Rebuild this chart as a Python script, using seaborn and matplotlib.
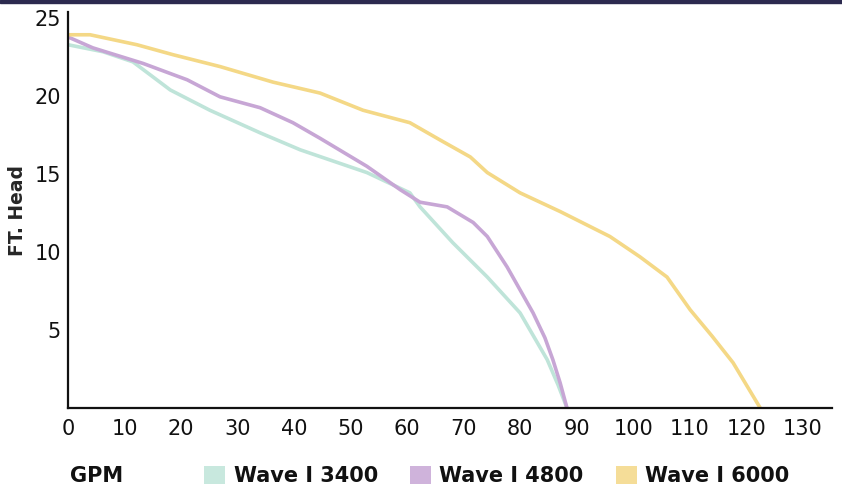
import matplotlib
matplotlib.use("Agg")
import matplotlib.pyplot as plt
import matplotlib.patches as mpatches
import seaborn as sns
import pandas as pd

# ---- data ----
gpm_3400 = [0, 6.2, 11.5, 18.1, 25.1, 34.0, 41.1, 52.9, 60.5, 62.3, 68.1, 74.2, 80.0, 84.8, 86.7, 88.3]
head_3400 = [23.3, 22.85, 22.2, 20.4, 19.1, 17.65, 16.56, 15.1, 13.8, 12.9, 10.6, 8.4, 6.1, 3.1, 1.5, 0.0]

gpm_4800 = [0, 4.4, 13.3, 21.1, 26.9, 34.0, 39.8, 44.6, 52.9, 58.8, 62.3, 67.1, 71.7, 74.2, 77.7, 82.3, 84.4, 85.8, 87.1, 88.3]
head_4800 = [23.8, 23.1, 22.1, 21.05, 19.96, 19.26, 18.3, 17.3, 15.5, 14.0, 13.2, 12.9, 11.9, 11.0, 9.05, 6.1, 4.5, 3.1, 1.6, 0.0]

gpm_6000 = [0, 3.9, 12.2, 18.6, 26.9, 36.3, 44.6, 52.2, 60.5, 65.8, 71.2, 74.2, 80.0, 87.1, 95.9, 101.2, 106.0, 110.1, 114.0, 117.7, 122.5]
head_6000 = [23.94, 23.94, 23.3, 22.66, 21.9, 20.9, 20.2, 19.1, 18.3, 17.2, 16.1, 15.1, 13.8, 12.6, 11.0, 9.7, 8.4, 6.3, 4.6, 2.9, 0.0]

series_names = ["Wave I 3400", "Wave I 4800", "Wave I 6000"]
series_colors = ["#bfe4d9", "#c7a6d5", "#f4d886"]
x_ticks = [0, 10, 20, 30, 40, 50, 60, 70, 80, 90, 100, 110, 120, 130]
y_ticks = [5, 10, 15, 20, 25]

frames = []
for name, xs, ys in zip(series_names, [gpm_3400, gpm_4800, gpm_6000], [head_3400, head_4800, head_6000]):
    frames.append(pd.DataFrame({"GPM": xs, "Head": ys, "Series": name}))
df = pd.concat(frames, ignore_index=True)

sns.set_theme(style="white")
plt.rcParams["font.family"] = ["DejaVu Sans"]

fig = plt.figure(figsize=(8.42, 4.91), dpi=100)
ax = fig.add_axes([68 / 842, 83 / 491, (832 - 68) / 842, (408 - 12) / 491])

sns.lineplot(data=df, x="GPM", y="Head", hue="Series", palette=series_colors,
             sort=False, estimator=None, linewidth=2.6, legend=False, ax=ax,
             solid_joinstyle="round", solid_capstyle="round")

ax.set_xlim(0, 135.2)
ax.set_ylim(0, 25.4)
ax.set_xticks(x_ticks)
ax.set_xticklabels([str(t) for t in x_ticks], fontsize=15)
ax.set_yticks(y_ticks)
ax.set_yticklabels([str(t) for t in y_ticks], fontsize=15, fontweight="medium")
ax.tick_params(axis="x", length=0, pad=8, colors="#111111")
ax.tick_params(axis="y", length=0, pad=5, colors="#111111")
for s in ["top", "right"]:
    ax.spines[s].set_visible(False)
for s in ["left", "bottom"]:
    ax.spines[s].set_color("#111111")
    ax.spines[s].set_linewidth(1.6)
ax.set_xlabel("")
ax.set_ylabel("FT. Head", fontsize=13.5, fontweight="bold")
ax.yaxis.set_label_coords(-0.054, 0.5)

# top dark band
fig.patches.append(mpatches.Rectangle((0, 1 - 3 / 491), 1, 3 / 491, transform=fig.transFigure,
                                      color="#2c2a4f", zorder=5))

# legend row
fig.text(70 / 842, 1 - 476 / 491, "GPM", fontsize=15, fontweight="bold", va="center", ha="left",
         color="#111111")
handles = [mpatches.Patch(facecolor=c, edgecolor="none", alpha=0.85) for c in series_colors]
leg = fig.legend(handles, series_names, loc="center left", bbox_to_anchor=(194 / 842, 1 - 476 / 491),
                 ncol=3, frameon=False, borderpad=0, handlelength=1.0, handleheight=1.0,
                 handletextpad=0.4, columnspacing=1.55,
                 prop={"weight": "bold", "size": 15})
for t in leg.get_texts():
    t.set_color("#111111")

fig.savefig("out.png", dpi=100)
